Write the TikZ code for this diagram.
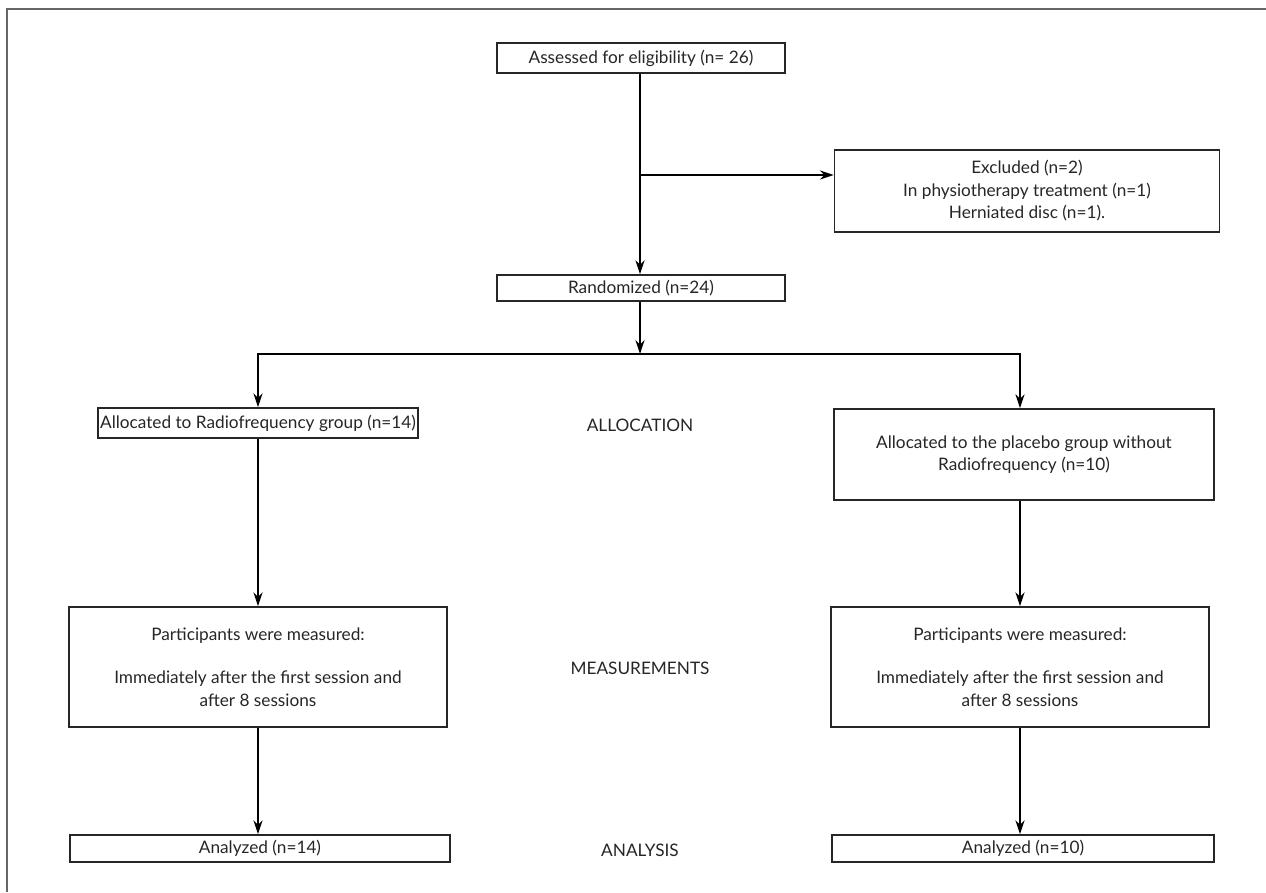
\documentclass[tikz,border=0pt]{standalone}
\usepackage{fontspec}
\setmainfont{Lato}
\usepackage{tikz}
\usetikzlibrary{arrows.meta}
\def\colL{258}
\def\colM{640}
\def\colR{1020}

\begin{document}
\begin{tikzpicture}[x=0.5mm,y=-0.5mm,>={Stealth[length=7mm,width=4.6mm]},line width=0.65mm,font=\fontsize{24.5}{32}\selectfont]
	\tikzstyle{box}=[draw=black!85,line width=0.8mm,text=black!85,inner sep=0pt,align=center]
	\tikzstyle{phase}=[text=black!85,inner sep=0pt]
	\tikzstyle{flow}=[->,draw=black]
	
	\useasboundingbox (0,0) rectangle (1266,892);
	% frame (top and left only)
	\draw[black!60,line width=1mm] (1266,9) -- (7,9) -- (7,892);
	
	% Draw the main chain
	\node[box,minimum width=288*0.5mm,minimum height=30*0.5mm] (assess) at (\colM+1,58) {Assessed for eligibility (n= 26)};
	\node[box,minimum width=385*0.5mm,minimum height=82*0.5mm] (excl) at (1027,191) {Excluded (n=2)\\In physiotherapy treatment (n=1)\\Herniated disc (n=1).};
	\node[box,minimum width=288*0.5mm,minimum height=26*0.5mm] (rand) at (\colM+1,288) {Randomized (n=24)};
	\coordinate (branch) at (\colM,175);
	\coordinate (split) at (\colM,354);
	
	% Draw the allocation boxes
	\node[box,minimum width=320*0.5mm,minimum height=30*0.5mm] (allocL) at (\colL,423) {Allocated to Radiofrequency group (n=14)};
	\node[box,minimum width=380*0.5mm,minimum height=91*0.5mm] (allocR) at (\colR+4,454.5) {Allocated to the placebo group without\\Radiofrequency (n=10)};
	
	% Draw the measurement boxes
	\foreach \name / \x in {L/\colL,R/\colR}
	\node[box,minimum width=378*0.5mm,minimum height=120*0.5mm] (meas\name) at (\x,667) {Participants were measured:\\[30pt]Immediately after the first session and\\after 8 sessions};
	
	% Draw the analysis boxes
	\node[box,minimum width=380*0.5mm,minimum height=27*0.5mm] (anaL) at (\colL+2,848.5) {Analyzed (n=14)};
	\node[box,minimum width=382*0.5mm,minimum height=27*0.5mm] (anaR) at (\colR+3,848.5) {Analyzed (n=10)};
	
	% Annotate the phases
	\node[phase] (pAlloc) at (\colM,425) {ALLOCATION};
	\node[phase] (pMeas) at (\colM,668) {MEASUREMENTS};
	\node[phase] (pAna) at (\colM,850) {ANALYSIS};
	
	% Connect the boxes
	\draw[flow] (assess.south -| branch) -- (rand.north -| branch);
	\draw[flow] (branch) -- (excl.west |- branch);
	\draw[flow] (rand.south -| split) -- (split);
	\draw[flow] (split) -| (allocL.north);
	\draw[flow] (split) -| (allocR.north -| measR.north);
	\draw[flow] (allocL.south) -- (measL.north);
	\draw[flow] (allocR.south -| measR.north) -- (measR.north);
	\draw[flow] (measL.south) -- (anaL.north -| measL.south);
	\draw[flow] (measR.south) -- (anaR.north -| measR.south);
	
\end{tikzpicture}
\end{document}
